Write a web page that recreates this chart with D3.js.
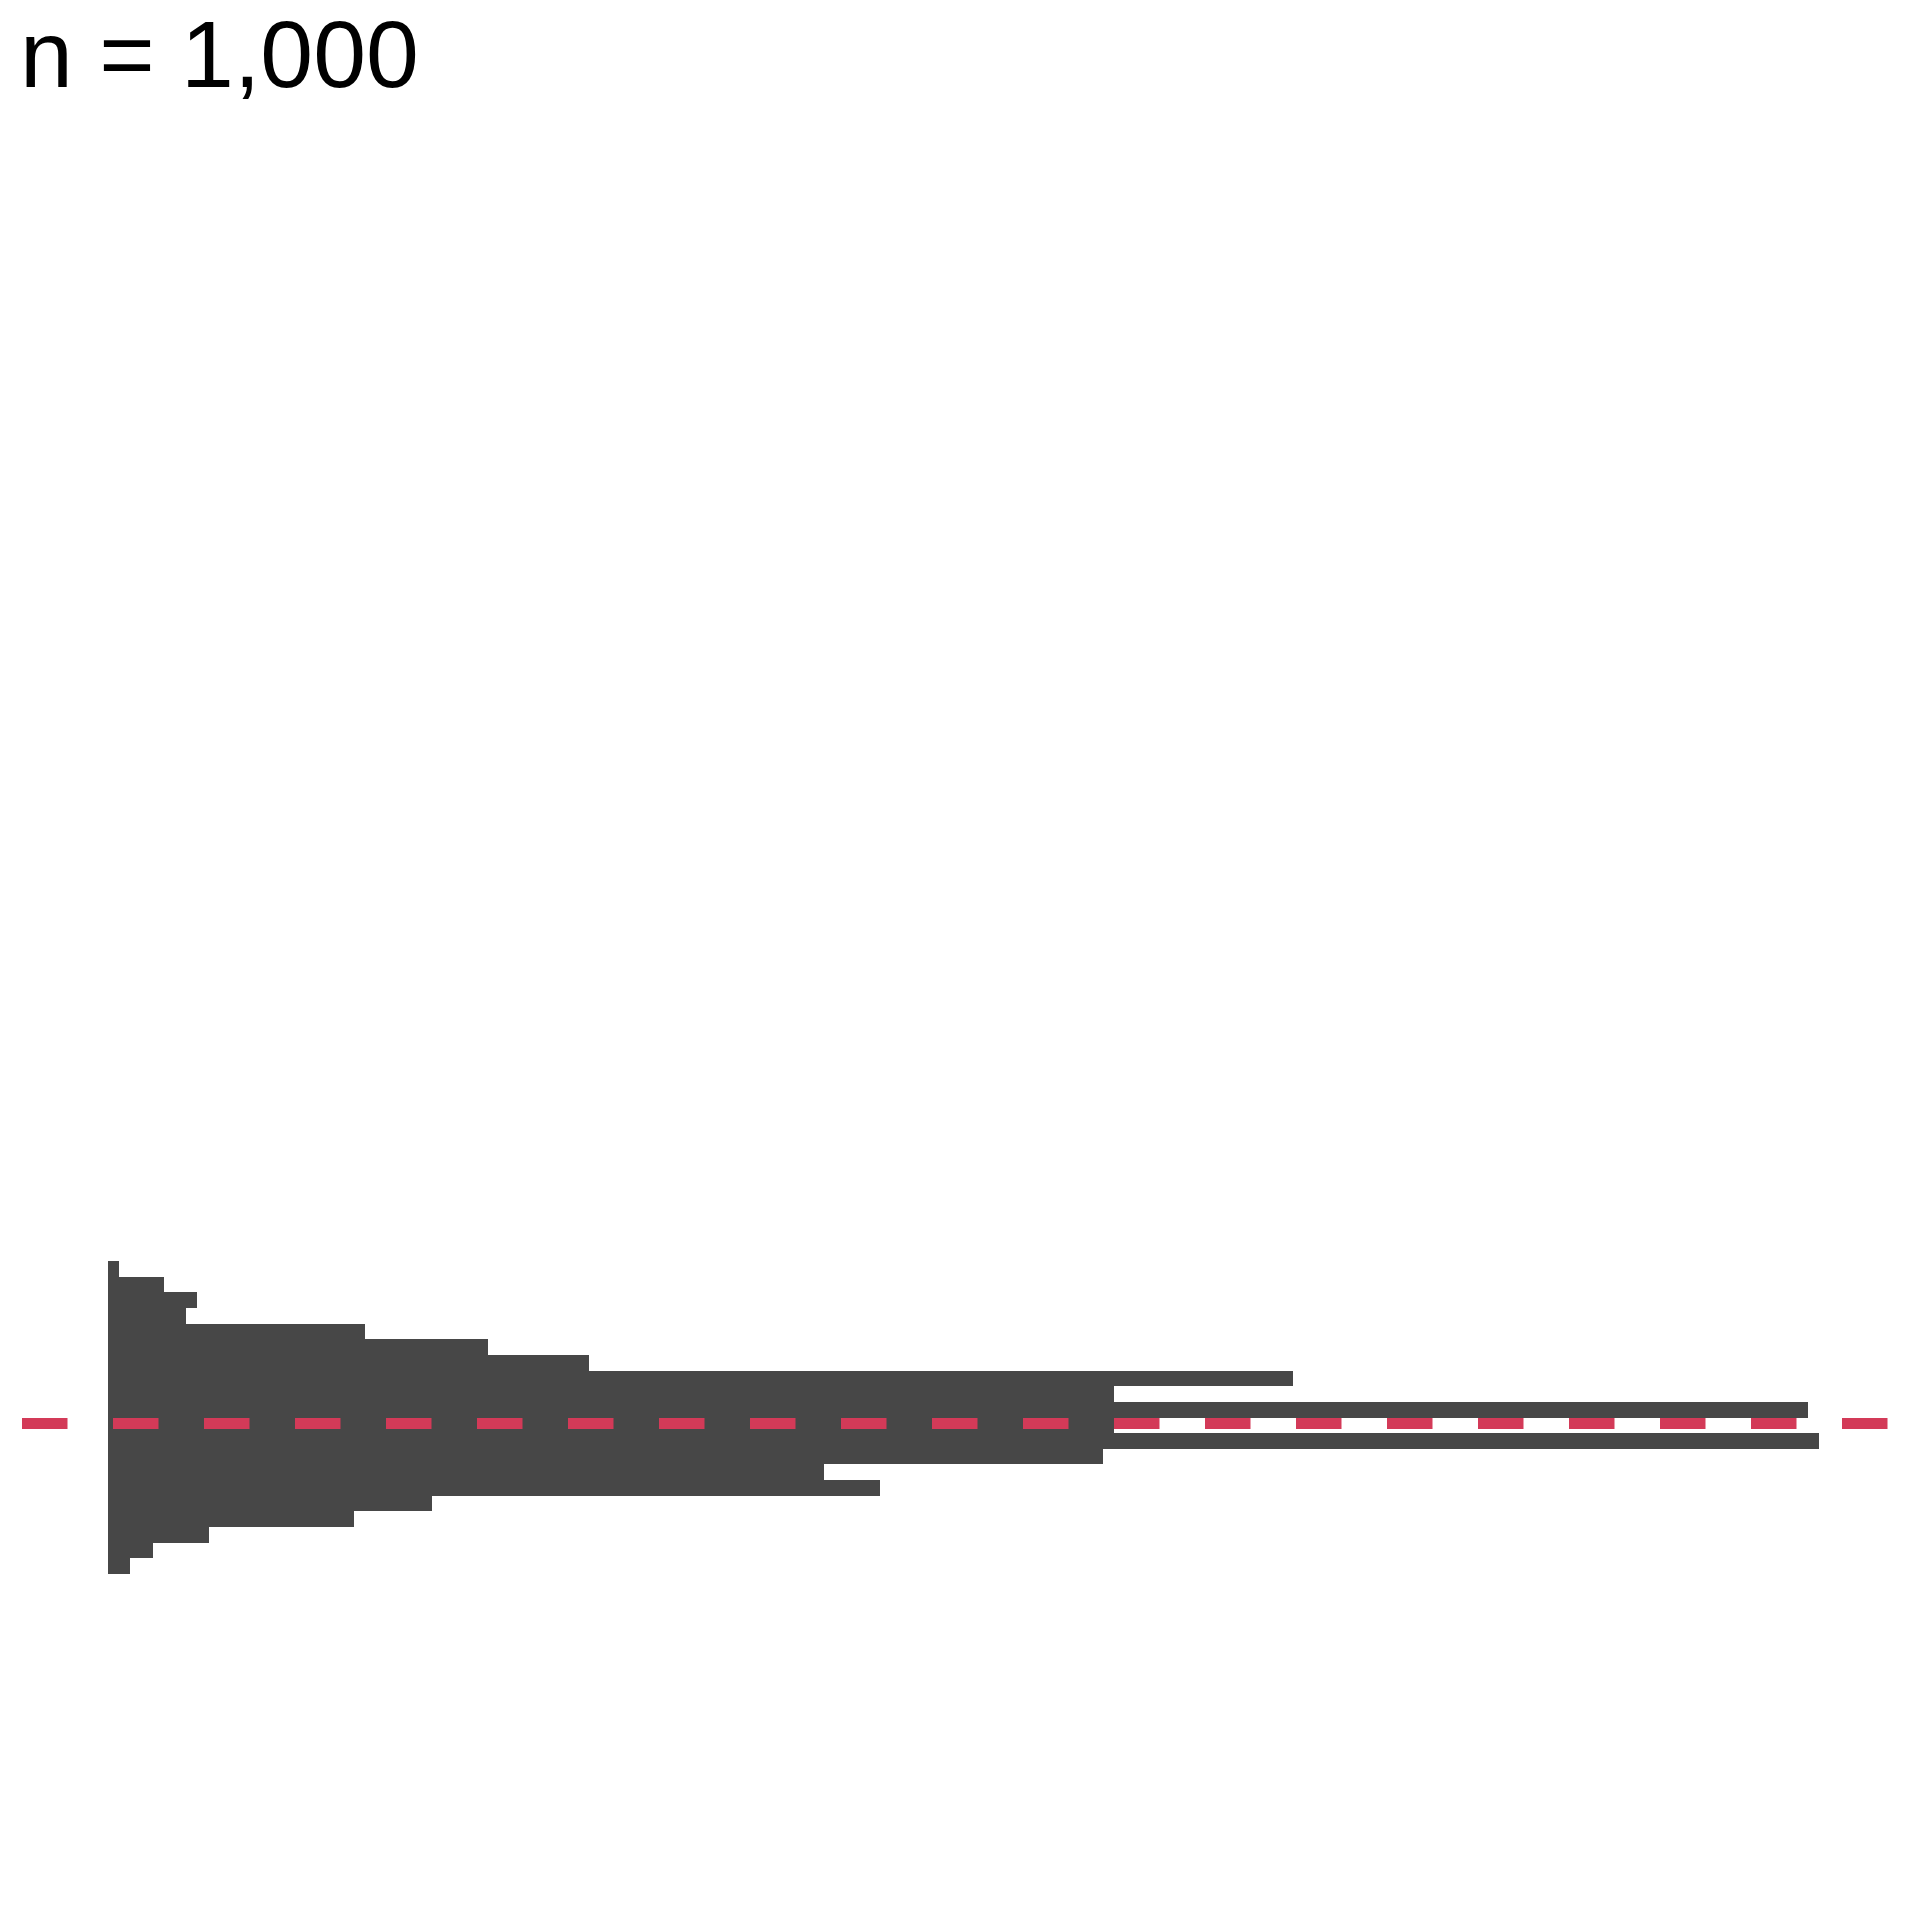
<!DOCTYPE html>
<html>
<head>
<meta charset="utf-8">
<script src="https://cdn.jsdelivr.net/npm/d3@7"></script>
<style>
  html, body { margin: 0; padding: 0; background: #fff; }
  svg { display: block; }
  text.title { font-family: Arial, Helvetica, "Liberation Sans", sans-serif; }
</style>
</head>
<body>
<script>
// Histogram bins (index 0 = lowest bin, at the bottom)
const binIndex = [0,1,2,3,4,5,6,7,8,9,10,11,12,13,14,15,16,17,18,19];
// counts per bin, bottom to top
const counts = [2,4,9,22,29,69,64,89,153,90,152,90,106,43,34,23,7,8,5,1];
const meanValue = 9.62;       // position of the dashed reference line (bin units)
const sampleSize = 1000;
const titleText = "n = " + d3.format(",")(sampleSize);

const W = 1920, H = 1920;
const svg = d3.select("body").append("svg")
  .attr("width", W).attr("height", H);

const x = d3.scaleLinear().domain([0, 153]).range([108, 1819]);
const y = d3.scaleLinear().domain([0, 20]).range([1574, 1261]);

svg.append("g").selectAll("rect")
  .data(binIndex)
  .join("rect")
  .attr("x", x(0))
  .attr("y", d => y(d + 1))
  .attr("width", d => x(counts[d]) - x(0))
  .attr("height", d => y(d) - y(d + 1))
  .attr("fill", "#474747")
  .attr("shape-rendering", "crispEdges");

svg.append("line")
  .attr("x1", 22).attr("x2", 1888)
  .attr("y1", y(meanValue)).attr("y2", y(meanValue))
  .attr("stroke", "#D33A58")
  .attr("stroke-width", 11)
  .attr("stroke-dasharray", "45.5,45.5");

svg.append("text")
  .attr("class", "title")
  .attr("x", 20).attr("y", 87)
  .style("font-size", "95px")
  .attr("fill", "#000")
  .text(titleText);
</script>
</body>
</html>
